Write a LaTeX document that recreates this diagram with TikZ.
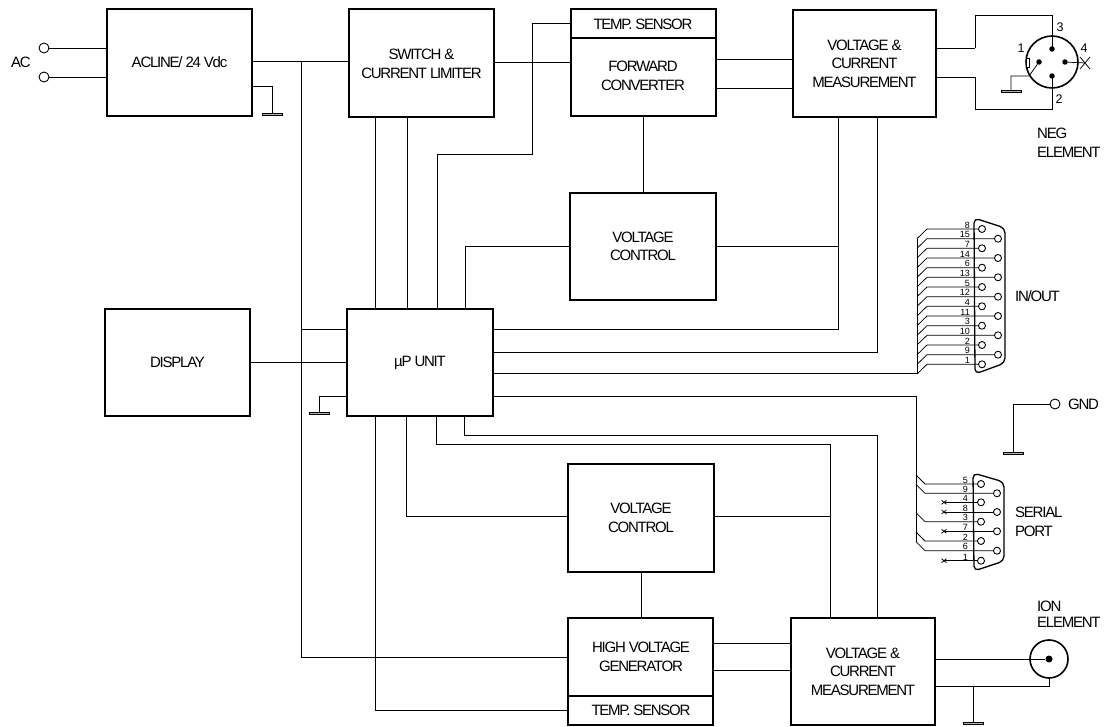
\documentclass[tikz,border=0pt]{standalone}
\usepackage{fontspec}
\setmainfont[LetterSpace=-8.3]{Liberation Sans}
\newfontfamily\pinfont{Liberation Sans}
\tikzset{
  blk/.style={draw=black,line width=1.6pt,fill=none,inner sep=0pt},
  lbl/.style={font=\fontsize{15}{18.5}\selectfont,align=center,inner sep=0pt},
  lbll/.style={font=\fontsize{15}{18.5}\selectfont,align=left,anchor=west,inner sep=0pt},
  wire/.style={line width=0.75pt,line join=miter},
  hwire/.style={line width=0.95pt,line join=miter},
  term/.style={circle,draw=black,line width=0.9pt,fill=white,minimum size=10pt,inner sep=0pt},
  pin/.style={circle,draw=black,line width=0.9pt,fill=white,minimum size=7pt,inner sep=0pt},
  pinnum/.style={font=\pinfont\fontsize{9}{9}\selectfont,inner sep=0pt,anchor=south east},
  connum/.style={font=\pinfont\fontsize{12.5}{12.5}\selectfont,inner sep=0pt},
  gndbar/.style={draw=black,fill=gray!60,line width=0.6pt,minimum width=20pt,minimum height=2.5pt,inner sep=0pt},
  dotp/.style={circle,fill=black,minimum size=5.5pt,inner sep=0pt},
}
\begin{document}
\begin{tikzpicture}[x=1pt,y=-1pt]
\useasboundingbox (0,0) rectangle (1104,727);
% blocks
\draw[blk] (107,9) rectangle (252,116) node[midway,lbl] (acb) {ACLINE/ 24 Vdc};
\draw[blk] (349,9) rectangle (494,117) node[midway,lbl,yshift=-1pt] (sw) {SWITCH \&\\CURRENT LIMITER};
\draw[blk] (571,9) rectangle (716,116);
\draw[blk] (571,38) -- (716,38);
\node[lbl] (ts1) at (643,24) {TEMP. SENSOR};
\node[lbl] (fw) at (643,76) {FORWARD\\CONVERTER};
\draw[blk] (793,10) rectangle (936,117) node[midway,lbl] (vc1) {VOLTAGE \&\\CURRENT\\MEASUREMENT};
\draw[blk] (570,193) rectangle (716,300) node[midway,lbl] (vk1) {VOLTAGE\\CONTROL};
\draw[blk] (105,309) rectangle (250,416) node[midway,lbl] (dsp) {DISPLAY};
\draw[blk] (347,309) rectangle (493,416) node[midway,lbl] (up) {µP UNIT};
\draw[blk] (568,464) rectangle (714,572) node[midway,lbl] (vk2) {VOLTAGE\\CONTROL};
\draw[blk] (568,618) rectangle (713,725);
\draw[blk] (568,696) -- (713,696);
\node[lbl] (hv) at (641,657) {HIGH VOLTAGE\\GENERATOR};
\node[lbl] (ts2) at (641,710) {TEMP. SENSOR};
\draw[blk] (791,618) rectangle (935,725) node[midway,lbl] (vc2) {VOLTAGE \&\\CURRENT\\MEASUREMENT};
% AC
\node[term] (a1) at (44,48) {};
\node[term] (a2) at (44,77) {};
\node[lbl] (actext) at (21,62) {AC};
\draw[wire] (a1) -- (107,48);
\draw[wire] (a2) -- (107,77);
\draw[hwire] (252,61) -- (349,61);
\draw[wire] (301,61) -- (301,657) -- (568,657);
\draw[wire] (252,86) -- (272,86) -- (272,113);
\node[gndbar] (g1) at (272,114.5) {};
% switch / uP
\draw[hwire] (375,117) -- (375,309);
\draw[hwire] (407,117) -- (407,309);
\draw[wire] (494,62) -- (571,62);
\draw[wire] (437,309) -- (437,154) -- (532,154) -- (532,23) -- (571,23);
\draw[wire] (465,309) -- (465,246) -- (570,246);
\draw[wire] (643,116) -- (643,193);
\draw[wire] (716,246) -- (838,246);
\draw[hwire] (716,59) -- (793,59);
\draw[hwire] (716,88) -- (793,88);
\draw[wire] (838,117) -- (838,329) -- (493,329);
\draw[hwire] (877,117) -- (877,352) -- (493,352);
\draw[wire] (301,329) -- (347,329);
\draw[wire] (250,362) -- (347,362);
\draw[wire] (347,396) -- (319,396) -- (319,412);
\node[gndbar] (g2) at (319,413.5) {};
% uP bottom
\draw[wire] (375,416) -- (375,710) -- (568,710);
\draw[wire] (406,416) -- (406,516) -- (568,516);
\draw[wire] (436,416) -- (436,444) -- (830,444) -- (830,618);
\draw[wire] (464,416) -- (464,435) -- (877,435) -- (877,618);
\draw[wire] (714,516) -- (830,516);
\draw[wire] (641,572) -- (641,618);
\draw[hwire] (713,643) -- (791,643);
\draw[hwire] (713,670) -- (791,670);
% top connector
\draw[hwire] (936,48) -- (975,48);
\draw[wire] (975,48) -- (975,15) -- (1052,15) -- (1052,49);
\draw[wire] (936,77) -- (975,77);
\draw[hwire] (975,77) -- (975,109) -- (1052,109) -- (1052,76);
\node[circle,draw=black,line width=1.6pt,minimum size=52pt,inner sep=0pt] (neg) at (1052,62) {};
\node[dotp] (p3) at (1052,49) {};
\node[dotp] (p2) at (1052,76) {};
\node[dotp] (p1) at (1039,62) {};
\node[dotp] (p4) at (1065,62) {};
\coordinate (x4) at (1085,63);
\draw[wire] (p4) -- (x4);
\draw[wire] (1080,57) -- (1090,69) (1080,69) -- (1090,57);
\draw[wire] (p1) -- (1029,76) -- (1011,76) -- (1011,90);
\draw[line width=0.8pt,fill=white] (1026,58) rectangle (1029.5,67);
\node[gndbar] (g3) at (1011,91.5) {};
\node[connum] (n3) at (1060,27) {3};
\node[connum] (n1) at (1021,48) {1};
\node[connum] (n4) at (1084,48) {4};
\node[connum] (n2) at (1059,99) {2};
\node[lbll] (negt) at (1037,133) {NEG};
\node[lbll] (negt2) at (1037,152) {ELEMENT};
% IN/OUT
\draw[hwire] (493,373) -- (917,373);
\draw[wire] (917,373) -- (917,239);
\draw[line width=1.3pt,rounded corners=5pt] (974,218) -- (1005,228) -- (1005,363) -- (975,374) -- cycle;
\foreach \n/\y/\x/\lab in {a/229/982/8,b/238.7/998/15,c/248.3/982/7,d/258/998/14,e/267.7/982/6,f/277.3/998/13,g/287/982/5,h/296.7/998/12,i/306.3/982/4,j/316/998/11,k/325.7/982/3,l/335.3/998/10,m/345/982/2,n/354.7/998/9,o/364.3/982/1}{
  \node[pin] (io\n) at (\x,\y) {};
  \draw[wire] (917,\y+9.7) -- (927,\y) -- (io\n);
  \node[pinnum] at (970,\y-0.5) {\lab};
}
\node[lbll] (iot) at (1015,296) {IN/OUT};
% SERIAL
\draw[wire] (493,396) -- (916,396) -- (916,542);
\draw[line width=1.3pt,rounded corners=5pt] (973,473) -- (1004,482) -- (1004,561) -- (974,571) -- cycle;
\foreach \n/\y/\x/\lab in {a/484/981/5,b/493.3/997/9,e/521.7/981/3,h/541/981/2,i/550.7/997/6}{
  \node[pin] (s\n) at (\x,\y) {};
  \draw[wire] (916,\y-9) -- (925,\y) -- (s\n);
  \node[pinnum] at (968,\y-0.5) {\lab};
}
\foreach \n/\y/\x/\lab in {c/502.3/981/4,d/512/997/8,f/531.3/997/7,g/560.7/981/1}{
  \node[pin] (s\n) at (\x,\y) {};
  \coordinate (sx\n) at (944,\y);
  \draw[wire] (sx\n) -- (s\n);
  \draw[wire] (941.5,\y-2) -- (946.5,\y+2) (941.5,\y+2) -- (946.5,\y-2);
  \node[pinnum] at (968,\y-0.5) {\lab};
}
\node[lbll] (sert) at (1015,512) {SERIAL};
\node[lbll] (sert2) at (1015,531) {PORT};
% GND
\node[term] (gt) at (1055,404) {};
\draw[wire] (gt) -- (1013,404) -- (1013,452);
\node[gndbar] (g4) at (1013,453.5) {};
\node[lbll] (gndt) at (1068,404) {GND};
% ION
\node[circle,draw=black,line width=1.6pt,minimum size=38pt,inner sep=0pt] (ion) at (1049,659) {};
\node[dotp,minimum size=7pt] (iond) at (1049,659) {};
\draw[hwire] (935,659) -- (iond);
\draw[wire] (935,686) -- (1049,686) -- (1049,678);
\draw[wire] (973,686) -- (973,722);
\node[gndbar] (g5) at (973,723.5) {};
\node[lbll] (iont) at (1037,606) {ION};
\node[lbll] (iont2) at (1037,622) {ELEMENT};
\end{tikzpicture}
\end{document}
